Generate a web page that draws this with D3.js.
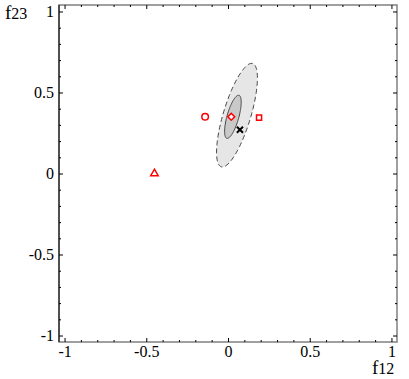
<!DOCTYPE html>
<html lang="en">
<head>
<meta charset="UTF-8">
<title>f12 vs f23</title>
<script src="https://d3js.org/d3.v7.min.js"></script>
<style>
  body { margin: 0; background: #ffffff; }
  svg { display: block; }
  svg text { font-family: "Liberation Serif", "Times New Roman", "DejaVu Serif", serif; fill: #000; }
</style>
</head>
<body>
<div id="chart"></div>
<script>
// ---- data ----
const tickValues = [-1, -0.5, 0, 0.5, 1];
const tickLabels = ["-1", "-0.5", "0", "0.5", "1"];

// confidence ellipses (data units): centre, semi-axes, tilt of major axis
const ellipseNames = ["outer", "inner"];
const ellipseCx = [0.055, 0.03];
const ellipseCy = [0.36, 0.35];
const ellipseMajor = [0.333, 0.138];
const ellipseMinor = [0.084, 0.036];
const ellipseAngle = [73.3, 74.4];

// point markers
const markerNames = ["circle", "diamond", "square", "triangle", "cross"];
const markerX = [-0.14, 0.02, 0.19, -0.45, 0.073];
const markerY = [0.35, 0.35, 0.345, 0.0, 0.27];

// ---- layout ----
const W = 409, H = 379;
const frame = {left: 59, right: 397, top: 5, bottom: 342};
const serif = '"Liberation Serif", "Times New Roman", "DejaVu Serif", serif';

const svg = d3.select("#chart").append("svg")
  .attr("width", W)
  .attr("height", H);

const x = d3.scaleLinear().domain([-1.034, 1.034]).range([frame.left, frame.right]);
const y = d3.scaleLinear().domain([-1.04, 1.04]).range([frame.bottom, frame.top]);

// ellipses
const line = d3.line().x(d => x(d[0])).y(d => y(d[1])).curve(d3.curveLinearClosed);
function ellipsePoints(i) {
  const th = ellipseAngle[i] * Math.PI / 180;
  return d3.range(0, 120).map(k => {
    const t = k / 120 * 2 * Math.PI;
    const u = ellipseMajor[i] * Math.cos(t), v = ellipseMinor[i] * Math.sin(t);
    return [ellipseCx[i] + u * Math.cos(th) - v * Math.sin(th),
            ellipseCy[i] + u * Math.sin(th) + v * Math.cos(th)];
  });
}
svg.append("path")
  .attr("d", line(ellipsePoints(0)))
  .attr("fill", "#e6e6e6")
  .attr("stroke", "#444")
  .attr("stroke-width", 1)
  .attr("stroke-dasharray", "5,3");
svg.append("path")
  .attr("d", line(ellipsePoints(1)))
  .attr("fill", "#c9c9c9")
  .attr("stroke", "#444")
  .attr("stroke-width", 1);

// frame
svg.append("rect")
  .attr("x", frame.left).attr("y", frame.top)
  .attr("width", frame.right - frame.left)
  .attr("height", frame.bottom - frame.top)
  .attr("fill", "none")
  .attr("stroke", "#808080")
  .attr("stroke-width", 1.5);
svg.append("line")
  .attr("x1", frame.left).attr("x2", frame.left)
  .attr("y1", frame.top).attr("y2", frame.bottom)
  .attr("stroke", "#000").attr("stroke-width", 1);

// ticks (inward) on all four sides
const minor = d3.range(-10, 11).map(d => d / 10).filter(d => Math.abs(d * 2 - Math.round(d * 2)) > 1e-9);
function addAxis(axisFn, scale, transform, values, size, labels) {
  const g = svg.append("g")
    .attr("transform", transform)
    .call(axisFn(scale).tickValues(values).tickSize(-size)
      .tickFormat(labels ? (d, i) => labels[i] : ""));
  g.select(".domain").remove();
  g.selectAll(".tick line").attr("stroke", "#000").attr("stroke-width", 1);
  g.selectAll("text").style("font-size", "16px").style("font-family", serif);
  return g;
}
const gxb = addAxis(d3.axisBottom, x, `translate(0,${frame.bottom})`, tickValues, 4, tickLabels);
gxb.selectAll("text").attr("y", 4).attr("dy", "0.71em");
addAxis(d3.axisBottom, x, `translate(0,${frame.bottom})`, minor, 2);
addAxis(d3.axisTop, x, `translate(0,${frame.top})`, tickValues, 4);
addAxis(d3.axisTop, x, `translate(0,${frame.top})`, minor, 2);
const gyl = addAxis(d3.axisLeft, y, `translate(${frame.left},0)`, tickValues, 4, tickLabels);
gyl.selectAll("text").attr("x", -5);
addAxis(d3.axisLeft, y, `translate(${frame.left},0)`, minor, 2);
addAxis(d3.axisRight, y, `translate(${frame.right},0)`, tickValues, 4);
addAxis(d3.axisRight, y, `translate(${frame.right},0)`, minor, 2);

// axis titles
function subLabel(px, py, sub) {
  const t = svg.append("text").attr("x", px).attr("y", py).style("font-family", serif);
  t.append("tspan").style("font-size", "19px").text("f");
  t.append("tspan").style("font-size", "16px").text(sub);
}
subLabel(5, 19, "23");
subLabel(372, 374, "12");

// markers
const red = "#ff0000";
const symbolFor = {
  circle: d3.symbol().type(d3.symbolCircle).size(34),
  diamond: d3.symbol().type(d3.symbolSquare).size(24),
  square: d3.symbol().type(d3.symbolSquare).size(26),
  triangle: d3.symbol().type(d3.symbolTriangle).size(24),
  cross: d3.symbol().type(d3.symbolTimes || d3.symbolCross).size(26)
};
markerNames.forEach((name, i) => {
  const p = svg.append("path")
    .attr("d", symbolFor[name]())
    .attr("transform", `translate(${x(markerX[i])},${y(markerY[i])})` + (name === "diamond" ? " rotate(45)" : ""));
  if (name === "cross") {
    p.attr("fill", "none").attr("stroke", "#000").attr("stroke-width", 2);
  } else {
    p.attr("fill", "#fff").attr("stroke", red).attr("stroke-width", 1.5);
  }
});
</script>
</body>
</html>
